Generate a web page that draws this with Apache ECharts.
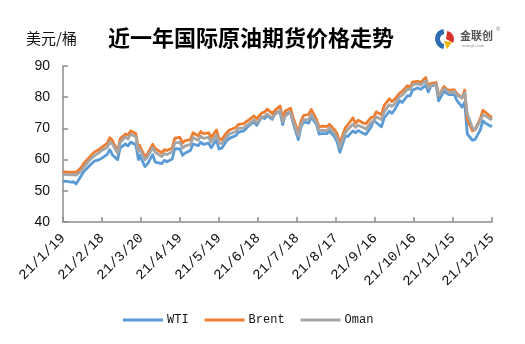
<!DOCTYPE html>
<html>
<head>
<meta charset="utf-8">
<script src="https://cdn.jsdelivr.net/npm/echarts@6/dist/echarts.min.js"></script>
<style>
  html, body { margin: 0; padding: 0; background: #fff; }
  #chart { width: 525px; height: 344px; }
</style>
</head>
<body>
<div id="chart"></div>
<script>
// Trading dates (2021) and daily closing prices, USD per barrel
const dates = [
  '2021-01-19','2021-01-21','2021-01-25','2021-01-27','2021-01-29','2021-02-02','2021-02-04','2021-02-08','2021-02-10','2021-02-12',
  '2021-02-16','2021-02-18','2021-02-22','2021-02-24','2021-02-26','2021-03-02','2021-03-04','2021-03-08','2021-03-10','2021-03-12',
  '2021-03-16','2021-03-18','2021-03-19','2021-03-23','2021-03-25','2021-03-29','2021-03-31','2021-04-05','2021-04-07','2021-04-09',
  '2021-04-13','2021-04-15','2021-04-19','2021-04-21','2021-04-23','2021-04-27','2021-04-29','2021-05-03','2021-05-05','2021-05-07',
  '2021-05-11','2021-05-13','2021-05-17','2021-05-19','2021-05-21','2021-05-25','2021-05-27','2021-06-01','2021-06-03','2021-06-07',
  '2021-06-09','2021-06-11','2021-06-15','2021-06-17','2021-06-21','2021-06-23','2021-06-25','2021-06-29','2021-07-01','2021-07-05',
  '2021-07-07','2021-07-09','2021-07-13','2021-07-15','2021-07-19','2021-07-21','2021-07-23','2021-07-27','2021-07-29','2021-08-02',
  '2021-08-04','2021-08-06','2021-08-10','2021-08-12','2021-08-16','2021-08-18','2021-08-20','2021-08-24','2021-08-26','2021-08-30',
  '2021-09-01','2021-09-03','2021-09-07','2021-09-09','2021-09-13','2021-09-15','2021-09-17','2021-09-21','2021-09-23','2021-09-27',
  '2021-09-29','2021-10-01','2021-10-05','2021-10-07','2021-10-11','2021-10-13','2021-10-15','2021-10-19','2021-10-21','2021-10-25',
  '2021-10-27','2021-10-29','2021-11-02','2021-11-04','2021-11-08','2021-11-10','2021-11-12','2021-11-16','2021-11-18','2021-11-22',
  '2021-11-24','2021-11-26','2021-11-30','2021-12-02','2021-12-06','2021-12-08','2021-12-10','2021-12-14','2021-12-15'
];

const wti = [
  53.0,53.1,52.8,52.9,52.2,54.8,56.2,57.9,58.7,59.5,
  60.0,60.5,61.7,63.2,61.5,60.0,63.8,65.0,64.4,65.6,
  64.8,60.0,61.4,57.8,58.6,61.6,59.2,58.7,59.8,59.3,
  60.2,63.5,63.4,61.4,62.1,62.9,65.0,64.5,65.6,64.9,
  65.3,63.8,66.3,63.4,63.6,66.1,66.8,67.7,68.8,69.2,
  70.0,70.9,72.1,71.0,73.7,73.1,74.1,72.9,75.2,75.0,
  71.2,74.6,75.2,71.7,66.4,70.3,72.1,71.7,73.6,71.3,
  68.2,68.3,68.3,69.1,67.3,65.5,62.3,67.5,67.4,69.2,
  68.6,69.3,68.4,68.1,70.5,72.6,71.9,70.5,73.3,75.5,
  74.8,75.9,78.9,78.3,80.5,80.4,82.3,83.0,82.5,83.8,
  81.7,83.6,83.9,78.8,81.9,81.3,80.8,80.8,79.0,76.8,
  78.4,68.2,66.2,66.5,69.5,72.4,71.7,70.7,70.9
];

const brent = [
  55.9,56.1,55.9,56.0,55.9,57.5,58.8,60.6,61.5,62.4,
  63.3,64.0,65.2,67.0,66.1,62.7,66.7,68.2,67.9,69.2,
  68.4,63.3,64.5,60.8,61.9,64.9,63.5,62.2,63.2,62.9,
  63.7,66.9,67.1,65.3,66.1,66.4,68.6,67.6,69.0,68.3,
  68.6,67.1,69.5,66.7,66.4,68.7,69.5,70.3,71.3,71.5,
  72.2,72.7,74.0,73.1,75.0,75.2,76.2,74.8,75.8,77.2,
  73.4,75.6,76.5,73.5,68.6,72.2,74.1,74.5,76.1,72.9,
  70.4,70.7,70.6,71.3,69.5,68.2,65.2,70.1,71.1,73.4,
  71.6,72.6,71.7,71.5,73.5,73.6,75.3,74.4,77.3,79.5,
  78.6,79.3,81.3,81.9,83.7,83.2,84.9,85.1,84.6,86.3,
  83.6,84.4,84.7,80.5,83.4,82.6,82.2,82.4,81.2,79.7,
  82.3,72.7,69.2,69.7,73.1,75.8,75.2,73.7,73.9
];

const oman = [
  55.0,55.3,55.1,55.2,55.0,56.3,57.6,59.6,60.4,61.2,
  62.3,63.0,63.9,65.6,65.0,62.0,65.5,67.3,66.6,68.1,
  67.3,62.5,63.4,59.9,60.9,63.8,62.3,61.0,61.9,61.6,
  62.5,65.3,65.6,63.7,64.4,64.8,67.1,66.2,67.5,66.8,
  67.1,65.6,67.9,65.3,65.2,67.3,68.2,69.0,70.0,70.2,
  70.9,71.4,72.7,71.8,73.5,73.9,74.6,73.4,74.4,75.8,
  72.1,73.9,75.1,72.3,67.6,70.9,72.8,72.9,74.5,71.9,
  69.3,69.4,69.3,70.1,68.3,66.9,64.0,68.5,69.6,71.3,
  70.3,71.0,70.3,69.8,71.9,72.4,73.7,72.8,75.3,77.6,
  77.1,77.8,80.2,80.6,82.6,82.4,84.0,84.3,83.9,85.2,
  83.0,83.7,84.2,80.6,82.7,82.3,81.4,81.9,80.6,79.8,
  81.4,74.6,70.1,69.5,72.5,74.3,74.0,72.9,73.4
];

const seriesNames = ['WTI', 'Brent', 'Oman'];
const yTicks = { min: 40, max: 90, step: 10 };
const xTicks = { start: '2021-01-19', stepDays: 30, count: 11 };

const DAY = 86400000;
const t0 = Date.parse(xTicks.start + 'T00:00:00Z');
const dayOf = d => Math.round((Date.parse(d + 'T00:00:00Z') - t0) / DAY);
const pairs = vals => dates.map((d, i) => [dayOf(d), vals[i]]);
const fmtDay = v => {
  const d = new Date(t0 + v * DAY);
  return String(d.getUTCFullYear()).slice(2) + '/' + (d.getUTCMonth() + 1) + '/' + d.getUTCDate();
};

const colors = ['#5B9BD5', '#ED7D31', '#A5A5A5'];
const axisGray = '#8C8C8C';

const chart = echarts.init(document.getElementById('chart'), null, { renderer: 'canvas' });

const lineSeries = (name, vals, color) => ({
  name, type: 'line', data: pairs(vals), showSymbol: false, symbol: 'none',
  lineStyle: { color, width: 2.8, join: 'round' }, itemStyle: { color },
  animation: false
});

chart.setOption({
  animation: false,
  backgroundColor: '#fff',
  grid: { left: 63, right: 33, top: 66, bottom: 122, containLabel: false },
  title: {
    text: '近一年国际原油期货价格走势',
    left: 246, top: 22, textAlign: 'center',
    textStyle: { fontFamily: 'Noto Sans CJK SC', fontWeight: 'bold', fontSize: 22, color: '#000' }
  },
  legend: {
    data: seriesNames,
    left: 118, top: 309,
    icon: 'rect', itemWidth: 40, itemHeight: 3, itemGap: 16,
    textStyle: { fontFamily: 'Liberation Mono', fontSize: 12, color: '#111', padding: [0, 0, 0, -1] }
  },
  xAxis: {
    type: 'value',
    min: 0, max: xTicks.stepDays * xTicks.count, interval: xTicks.stepDays,
    splitLine: { show: false },
    axisLine: { lineStyle: { color: axisGray, width: 1.5 } },
    axisTick: { inside: true, length: 5, lineStyle: { color: axisGray, width: 1.5 } },
    axisLabel: {
      formatter: fmtDay, rotate: 45, margin: 14,
      fontFamily: 'Liberation Mono', fontSize: 14, color: '#111'
    }
  },
  yAxis: {
    type: 'value', min: yTicks.min, max: yTicks.max, interval: yTicks.step,
    splitLine: { show: false },
    axisLine: { show: true, lineStyle: { color: axisGray, width: 1.5 } },
    axisTick: { show: true, inside: true, length: 5, lineStyle: { color: axisGray, width: 1.5 } },
    axisLabel: { margin: 13, fontFamily: 'Liberation Sans', fontSize: 14, color: '#111' }
  },
  series: [
    lineSeries(seriesNames[0], wti, colors[0]),
    lineSeries(seriesNames[1], brent, colors[1]),
    lineSeries(seriesNames[2], oman, colors[2])
  ],
  graphic: [
    { type: 'text', left: 26, top: 31,
      style: { text: '美元/桶', font: '15px "Noto Sans CJK SC"', fill: '#111' } },
    // brand mark
    { type: 'group', left: 435, top: 26, children: [
      { type: 'sector', shape: { cx: 10, cy: 11, r: 10, r0: 5, startAngle: Math.PI * 0.55, endAngle: Math.PI * 1.45 },
        style: { fill: '#2E6DB4' } },
      { type: 'sector', shape: { cx: 11, cy: 11, r: 8, r0: 0, startAngle: -Math.PI * 0.45, endAngle: Math.PI * 0.15 },
        style: { fill: '#D9302B' } },
      { type: 'polygon', shape: { points: [[9, 13], [17, 14], [12, 21]] }, style: { fill: '#F2B705' } },
      { type: 'text', x: 25, y: 2, style: { text: '金联创', font: 'bold 11px "Noto Sans CJK SC"', fill: '#555' } },
      { type: 'text', x: 61, y: -2, style: { text: '®', font: '6px "Liberation Sans"', fill: '#777' } },
      { type: 'text', x: 27, y: 16, style: { text: 'www.jlc.com', font: '4px "Liberation Sans"', fill: '#888' } }
    ] }
  ]
});
</script>
</body>
</html>
